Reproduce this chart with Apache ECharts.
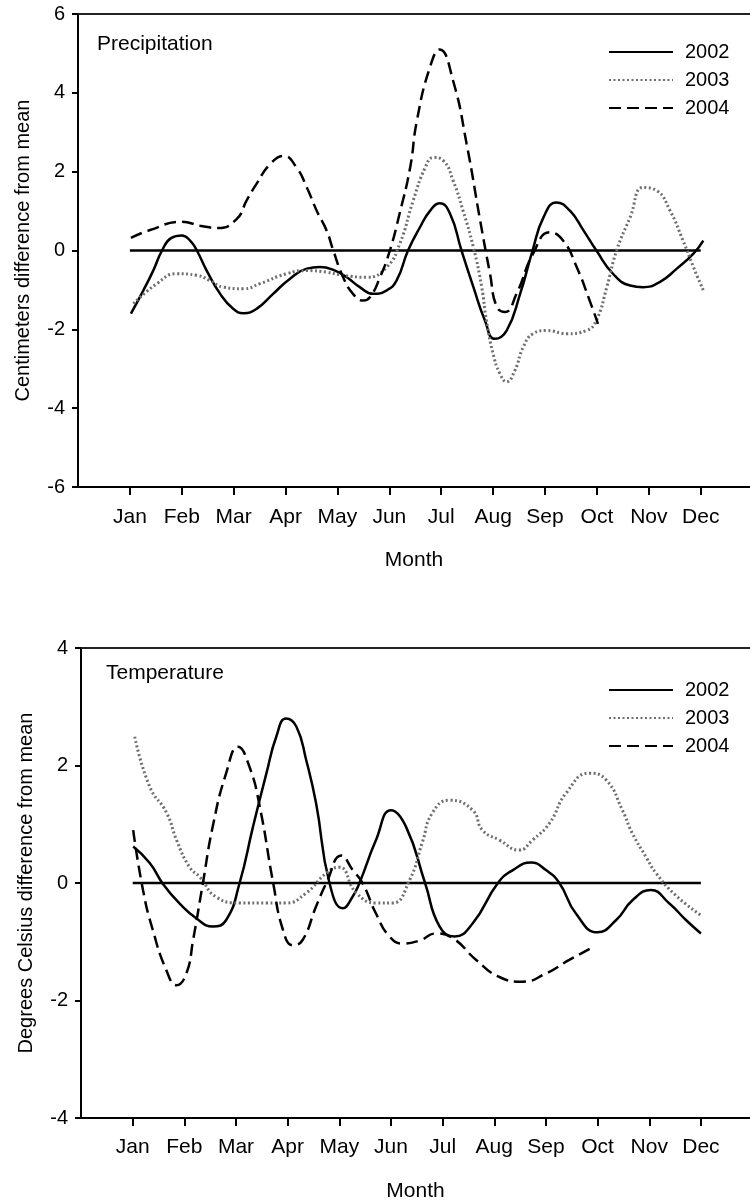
<!DOCTYPE html>
<html>
<head>
<meta charset="utf-8">
<script src="https://cdn.jsdelivr.net/npm/echarts@6/dist/echarts.min.js"></script>
<style>
  html, body { margin: 0; padding: 0; background: #fff; }
  #chart { width: 750px; height: 1203px; }
</style>
</head>
<body>
<div id="chart"></div>
<script>
// ---------- tick labels ----------
var months = ['Jan', 'Feb', 'Mar', 'Apr', 'May', 'Jun', 'Jul', 'Aug', 'Sep', 'Oct', 'Nov', 'Dec'];
var monthPositions = [1, 2, 3, 4, 5, 6, 7, 8, 9, 10, 11, 12];
var seriesNames = ['2002', '2003', '2004'];
var zeroLineX = [1, 12];

// ---------- Precipitation (cm difference from mean) ----------
var precip2002X = [1.02, 1.26, 1.45, 1.62, 1.8, 2.0, 2.16, 2.29, 2.48, 2.74, 2.99, 3.19, 3.44, 3.76, 4.08, 4.41, 4.66, 4.92, 5.18, 5.43, 5.69, 5.95, 6.14, 6.36, 6.59, 6.78, 6.97, 7.17, 7.39, 7.62, 7.84, 8.03, 8.26, 8.52, 8.76, 8.97, 9.22, 9.48, 9.74, 9.99, 10.31, 10.64, 10.89, 11.21, 11.54, 11.86, 12.05];
var precip2002Y = [-1.6, -1.01, -0.51, 0, 0.32, 0.38, 0.25, 0, -0.51, -1.1, -1.48, -1.59, -1.48, -1.1, -0.72, -0.46, -0.42, -0.49, -0.68, -0.93, -1.1, -1.01, -0.76, 0, 0.59, 1.0, 1.2, 0.93, 0, -0.93, -1.77, -2.24, -2.03, -1.1, 0, 0.84, 1.22, 1.01, 0.51, 0, -0.59, -0.89, -0.93, -0.8, -0.46, -0.08, 0.25];

var precip2003X = [1.07, 1.52, 1.9, 2.29, 2.54, 2.8, 3.19, 3.51, 4.02, 4.41, 4.79, 5.11, 5.56, 5.95, 6.2, 6.46, 6.69, 6.85, 7.04, 7.23, 7.42, 7.62, 7.78, 7.87, 8.0, 8.13, 8.26, 8.42, 8.58, 8.77, 9.03, 9.42, 9.8, 9.99, 10.19, 10.38, 10.64, 10.89, 11.15, 11.41, 11.66, 11.86, 12.05];
var precip2003Y = [-1.35, -0.84, -0.59, -0.63, -0.76, -0.93, -0.97, -0.84, -0.59, -0.51, -0.55, -0.63, -0.68, -0.42, 0.17, 1.27, 2.1, 2.36, 2.28, 1.77, 1.01, 0.08, -0.93, -1.77, -2.62, -3.12, -3.33, -3.04, -2.45, -2.11, -2.03, -2.11, -2.03, -1.77, -0.93, 0, 0.84, 1.6, 1.52, 1.01, 0.25, -0.42, -1.01];

var precip2004X = [1.02, 1.39, 2.0, 2.35, 2.7, 3.06, 3.25, 3.44, 3.7, 3.96, 4.21, 4.41, 4.6, 4.79, 4.92, 5.11, 5.3, 5.5, 5.63, 5.82, 6.01, 6.2, 6.4, 6.53, 6.78, 6.97, 7.23, 7.49, 7.75, 7.94, 8.07, 8.23, 8.45, 8.77, 9.09, 9.35, 9.61, 9.86, 10.02];
var precip2004Y = [0.32, 0.52, 0.73, 0.63, 0.57, 0.8, 1.27, 1.69, 2.19, 2.4, 2.11, 1.6, 1.01, 0.51, 0, -0.68, -1.1, -1.27, -1.18, -0.68, 0, 0.95, 2.1, 3.29, 4.64, 5.1, 4.3, 2.7, 0.76, -0.59, -1.43, -1.56, -1.1, -0.08, 0.46, 0.25, -0.42, -1.27, -1.86];

// ---------- Temperature (deg C difference from mean) ----------
var temp2002X = [1.01, 1.33, 1.59, 1.91, 2.23, 2.55, 2.81, 3.07, 3.33, 3.59, 3.78, 3.97, 4.17, 4.36, 4.55, 4.81, 5.07, 5.26, 5.39, 5.71, 6.0, 6.29, 6.66, 6.94, 7.23, 7.58, 8.07, 8.36, 8.71, 9.0, 9.26, 9.58, 10.0, 10.36, 10.68, 11.03, 11.39, 11.71, 12.0];
var temp2002Y = [0.62, 0.34, -0.02, -0.35, -0.6, -0.74, -0.63, 0, 0.96, 1.87, 2.49, 2.8, 2.66, 2.09, 1.36, 0, -0.43, -0.23, 0, 0.73, 1.24, 0.96, 0, -0.74, -0.91, -0.69, 0, 0.22, 0.35, 0.22, 0, -0.52, -0.84, -0.63, -0.29, -0.12, -0.35, -0.63, -0.86];

var temp2003X = [1.04, 1.33, 1.66, 1.85, 2.1, 2.3, 2.62, 3.07, 3.59, 3.97, 4.36, 4.75, 5.0, 5.33, 5.72, 6.03, 6.36, 6.61, 6.8, 7.13, 7.58, 7.77, 8.1, 8.48, 8.74, 9.07, 9.39, 9.84, 10.17, 10.48, 10.67, 10.94, 11.13, 11.5, 12.0];
var temp2003Y = [2.49, 1.64, 1.19, 0.73, 0.27, 0.1, -0.24, -0.34, -0.34, -0.34, -0.17, 0.17, 0.27, -0.17, -0.34, -0.34, 0.05, 0.7, 1.19, 1.41, 1.24, 0.9, 0.73, 0.56, 0.73, 1.02, 1.53, 1.87, 1.75, 1.24, 0.85, 0.44, 0.17, -0.2, -0.55];

var temp2004X = [1.01, 1.2, 1.39, 1.65, 1.85, 2.04, 2.17, 2.36, 2.55, 2.81, 3.04, 3.26, 3.46, 3.72, 3.91, 4.1, 4.29, 4.55, 4.75, 5.04, 5.26, 5.45, 5.71, 5.97, 6.23, 6.55, 6.87, 7.2, 7.65, 8.1, 8.55, 9.0, 9.45, 9.94];
var temp2004Y = [0.9, -0.12, -0.8, -1.48, -1.74, -1.54, -0.97, 0, 0.96, 1.87, 2.32, 1.98, 1.3, 0, -0.8, -1.06, -0.97, -0.4, 0, 0.47, 0.22, 0, -0.52, -0.91, -1.03, -0.98, -0.86, -0.94, -1.31, -1.6, -1.68, -1.54, -1.31, -1.08];

// ---------- helpers ----------
function pairs(xs, ys) { return xs.map(function (x, i) { return [x, ys[i]]; }); }
var FONT = '"Liberation Sans", Arial, Helvetica, sans-serif';
var lineStyles = {
  '2002': { color: '#000', width: 2.5, type: 'solid' },
  '2003': { color: '#6e6e6e', width: 3, type: [2, 2.5] },
  '2004': { color: '#000', width: 2.5, type: [12, 6] }
};

function curve(name, xs, ys, gi) {
  return {
    type: 'line', name: name, xAxisIndex: gi * 2, yAxisIndex: gi,
    data: pairs(xs, ys), showSymbol: false, symbol: 'none',
    smooth: 0.5, z: 3,
    lineStyle: lineStyles[name], itemStyle: { color: lineStyles[name].color },
    silent: true, animation: false
  };
}
function zeroLine(gi) {
  return {
    type: 'line', name: 'zero', xAxisIndex: gi * 2, yAxisIndex: gi,
    data: pairs(zeroLineX, [0, 0]), symbol: 'none', z: 2,
    lineStyle: { color: '#000', width: 2.5 }, silent: true, animation: false
  };
}
function xAxes(gi, labelMargin) {
  return [{
    type: 'value', gridIndex: gi, min: 0, max: 12.95, position: 'bottom',
    name: 'Month', nameLocation: 'middle', nameGap: 63,
    nameTextStyle: { fontSize: 21, color: '#000', fontFamily: FONT },
    axisLine: { show: true, onZero: false, lineStyle: { color: '#000', width: 2 } },
    axisTick: { show: true, customValues: monthPositions, length: 8, lineStyle: { color: '#000', width: 2 } },
    axisLabel: {
      show: true, customValues: monthPositions, margin: labelMargin,
      fontSize: 21, color: '#000', fontFamily: FONT,
      formatter: function (v) { return months[Math.round(v) - 1] || ''; }
    },
    splitLine: { show: false }
  }, {
    type: 'value', gridIndex: gi, min: 0, max: 12.95, position: 'top',
    axisLine: { show: true, onZero: false, lineStyle: { color: '#222', width: 2 } },
    axisTick: { show: false }, axisLabel: { show: false }, splitLine: { show: false }
  }];
}
function yAxis(gi, lim, title) {
  return {
    type: 'value', gridIndex: gi, min: -lim, max: lim, interval: 2,
    name: title, nameLocation: 'middle', nameRotate: 90, nameGap: 45,
    nameTextStyle: { fontSize: 20, color: '#000', fontFamily: FONT },
    axisLine: { show: true, onZero: false, lineStyle: { color: '#000', width: 2 } },
    axisTick: { show: true, length: 6, lineStyle: { color: '#000', width: 2 } },
    axisLabel: { fontSize: 20, color: '#000', fontFamily: FONT, margin: 13 },
    splitLine: { show: false }
  };
}
function legend(top) {
  return {
    orient: 'vertical', left: 603, top: top, itemWidth: 64, itemHeight: 14, itemGap: 8,
    data: seriesNames, selectedMode: false,
    itemStyle: { opacity: 0 },
    textStyle: { fontSize: 20, lineHeight: 20, color: '#000', fontFamily: FONT, padding: [0, 0, 0, 7] }
  };
}

var chart = echarts.init(document.getElementById('chart'), null, { renderer: 'canvas' });
chart.setOption({
  backgroundColor: '#fff',
  animation: false,
  textStyle: { fontFamily: FONT },
  title: [
    { text: 'Precipitation', left: 92, top: 29, textStyle: { fontSize: 21, fontWeight: 'normal', color: '#000', fontFamily: FONT } },
    { text: 'Temperature', left: 101, top: 658, textStyle: { fontSize: 21, fontWeight: 'normal', color: '#000', fontFamily: FONT } }
  ],
  legend: [legend(37), legend(675)],
  grid: [
    { left: 78, top: 14, right: 0, height: 473, containLabel: false },
    { left: 81, top: 648, right: 0, height: 470, containLabel: false }
  ],
  xAxis: xAxes(0, 20).concat(xAxes(1, 19)),
  yAxis: [
    yAxis(0, 6, 'Centimeters difference from mean'),
    yAxis(1, 4, 'Degrees Celsius difference from mean')
  ],
  series: [
    zeroLine(0),
    curve('2002', precip2002X, precip2002Y, 0),
    curve('2003', precip2003X, precip2003Y, 0),
    curve('2004', precip2004X, precip2004Y, 0),
    zeroLine(1),
    curve('2002', temp2002X, temp2002Y, 1),
    curve('2003', temp2003X, temp2003Y, 1),
    curve('2004', temp2004X, temp2004Y, 1)
  ]
});
</script>
</body>
</html>
